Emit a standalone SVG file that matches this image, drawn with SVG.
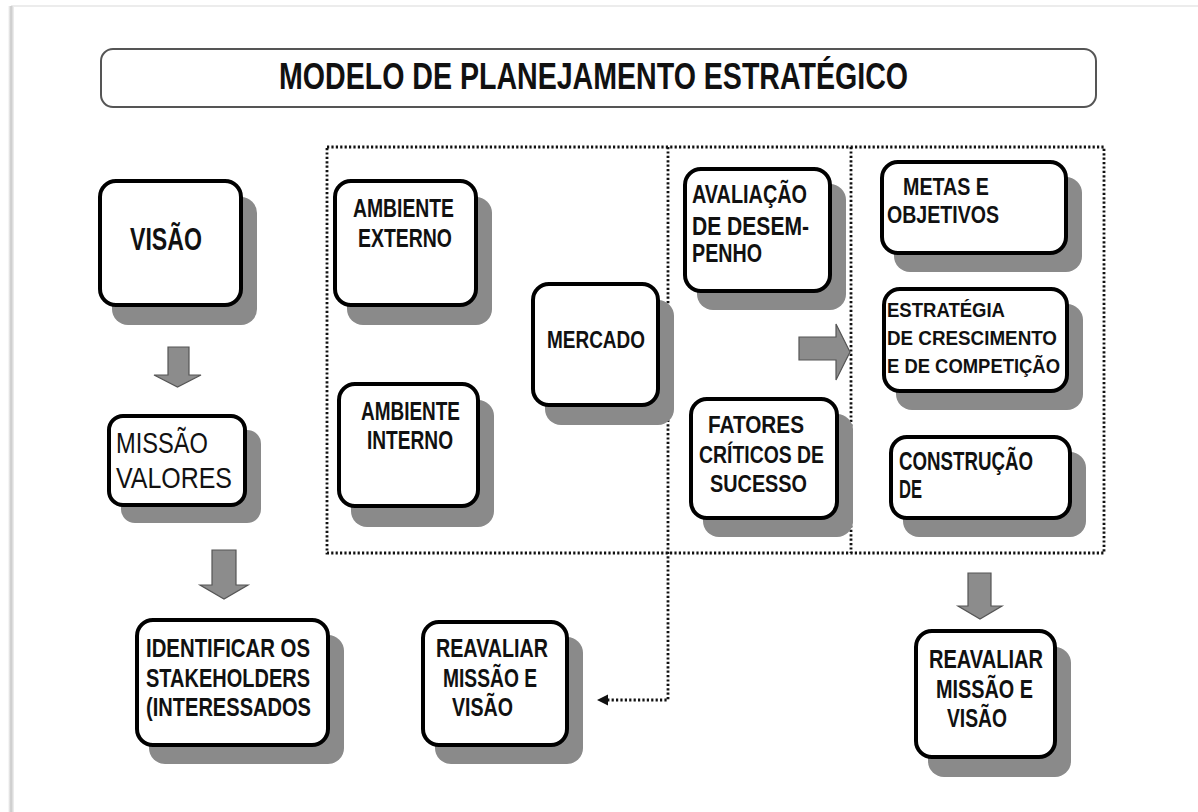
<svg xmlns="http://www.w3.org/2000/svg" width="1198" height="812" viewBox="0 0 1198 812">
<defs>
<style>
.box{fill:#fff;stroke:#000;stroke-width:4}
.sh{fill:#8a8a8a}
.t{font-family:"Liberation Sans",Arial,sans-serif;font-weight:bold;fill:#111}
.n{font-family:"Liberation Sans",Arial,sans-serif;font-weight:normal;fill:#111}
.dot{fill:none;stroke:#111;stroke-width:2.8;stroke-dasharray:2.2 2.2}
.blk{fill:#8c8c8c;stroke:#555;stroke-width:1.2}
</style>
<linearGradient id="edge" x1="0" y1="0" x2="1" y2="0">
<stop offset="0" stop-color="#ffffff"/>
<stop offset="0.5" stop-color="#c8c8c8"/>
<stop offset="1" stop-color="#f2f2f2"/>
</linearGradient>
</defs>
<rect x="0" y="0" width="1198" height="812" fill="#fff"/>
<rect x="11" y="5" width="1187" height="2" fill="#ececec"/>
<rect x="8" y="6" width="6" height="806" fill="url(#edge)"/>

<g id="title">
<rect x="101" y="49" width="995" height="58" rx="12" fill="#fff" stroke="#555" stroke-width="2"/>
<text class="t" x="279" y="89" font-size="37" textLength="629" lengthAdjust="spacingAndGlyphs">MODELO DE PLANEJAMENTO ESTRATÉGICO</text>
</g>

<g id="connectors">
<path class="dot" d="M327,147 H1104 V553 H327 Z"/>
<path class="dot" d="M851,147 V553"/>
<path class="dot" d="M668,147 V700 H606"/>
<path d="M597,700 L608,694.5 L608,705.5 Z" fill="#111"/>
<path class="blk" d="M168,347 H189 V375 H201 L177.5,387 L154,375 H168 Z"/>
<path class="blk" d="M212,550 H236 V585 H248 L224,599 L200,585 H212 Z"/>
<path class="blk" d="M968,573 H991 V606 H1002 L980,619 L958,606 H968 Z"/>
<path class="blk" d="M799,337 H836 V324 L850,352 L836,380 V360 H799 Z"/>
</g>

<g id="n-visao">
<rect class="sh" x="112" y="197" width="145" height="128" rx="16"/>
<rect class="box" x="100" y="181" width="141" height="124" rx="16"/>
<text class="t" x="130" y="250" font-size="32" textLength="72" lengthAdjust="spacingAndGlyphs">VISÃO</text>
</g>

<g id="n-missao">
<rect class="sh" x="121" y="430" width="140" height="93" rx="14"/>
<rect class="box" x="109" y="416" width="136" height="89" rx="14"/>
<text class="n" x="116" y="453" font-size="29" textLength="92" lengthAdjust="spacingAndGlyphs">MISSÃO</text>
<text class="n" x="116" y="488" font-size="29" textLength="116" lengthAdjust="spacingAndGlyphs">VALORES</text>
</g>

<g id="n-stakeholders">
<rect class="sh" x="149" y="635" width="195" height="129" rx="16"/>
<rect class="box" x="137" y="620" width="191" height="125" rx="16"/>
<text class="t" x="146" y="657" font-size="26" textLength="164" lengthAdjust="spacingAndGlyphs">IDENTIFICAR OS</text>
<text class="t" x="146" y="687" font-size="26" textLength="164" lengthAdjust="spacingAndGlyphs">STAKEHOLDERS</text>
<text class="t" x="146" y="716" font-size="26" textLength="165" lengthAdjust="spacingAndGlyphs">(INTERESSADOS</text>
</g>

<g id="n-reavaliar1">
<rect class="sh" x="435" y="637" width="148" height="127" rx="16"/>
<rect class="box" x="423" y="622" width="144" height="123" rx="16"/>
<text class="t" x="436" y="657" font-size="26" textLength="112" lengthAdjust="spacingAndGlyphs">REAVALIAR</text>
<text class="t" x="443" y="687" font-size="26" textLength="94" lengthAdjust="spacingAndGlyphs">MISSÃO E</text>
<text class="t" x="452" y="716" font-size="26" textLength="61" lengthAdjust="spacingAndGlyphs">VISÃO</text>
</g>

<g id="n-amb-ext">
<rect class="sh" x="347" y="197" width="145" height="128" rx="16"/>
<rect class="box" x="335" y="181" width="141" height="124" rx="16"/>
<text class="t" x="353" y="217" font-size="26" textLength="101" lengthAdjust="spacingAndGlyphs">AMBIENTE</text>
<text class="t" x="358" y="247" font-size="26" textLength="94" lengthAdjust="spacingAndGlyphs">EXTERNO</text>
</g>

<g id="n-amb-int">
<rect class="sh" x="351" y="400" width="143" height="127" rx="16"/>
<rect class="box" x="339" y="384" width="139" height="122" rx="16"/>
<text class="t" x="361" y="420" font-size="26" textLength="99" lengthAdjust="spacingAndGlyphs">AMBIENTE</text>
<text class="t" x="367" y="449" font-size="26" textLength="86" lengthAdjust="spacingAndGlyphs">INTERNO</text>
</g>

<g id="n-mercado">
<rect class="sh" x="545" y="300" width="129" height="125" rx="16"/>
<rect class="box" x="533" y="284" width="125" height="121" rx="16"/>
<text class="t" x="547" y="348" font-size="24" textLength="98" lengthAdjust="spacingAndGlyphs">MERCADO</text>
</g>

<g id="n-avaliacao">
<rect class="sh" x="697" y="184" width="149" height="126" rx="16"/>
<rect class="box" x="685" y="169" width="145" height="122" rx="16"/>
<text class="t" x="692" y="203" font-size="25" textLength="115" lengthAdjust="spacingAndGlyphs">AVALIAÇÃO</text>
<text class="t" x="692" y="235" font-size="25" textLength="117" lengthAdjust="spacingAndGlyphs">DE  DESEM-</text>
<text class="t" x="692" y="262" font-size="25" textLength="70" lengthAdjust="spacingAndGlyphs">PENHO</text>
</g>

<g id="n-fatores">
<rect class="sh" x="703" y="414" width="150" height="123" rx="16"/>
<rect class="box" x="691" y="399" width="146" height="119" rx="16"/>
<text class="t" x="708" y="433" font-size="24" textLength="96" lengthAdjust="spacingAndGlyphs">FATORES</text>
<text class="t" x="699" y="463" font-size="24" textLength="125" lengthAdjust="spacingAndGlyphs">CRÍTICOS DE</text>
<text class="t" x="710" y="492" font-size="24" textLength="97" lengthAdjust="spacingAndGlyphs">SUCESSO</text>
</g>

<g id="n-metas">
<rect class="sh" x="894" y="177" width="188" height="95" rx="16"/>
<rect class="box" x="882" y="162" width="184" height="91" rx="16"/>
<text class="t" x="903" y="195" font-size="24" textLength="86" lengthAdjust="spacingAndGlyphs">METAS E</text>
<text class="t" x="887" y="223" font-size="24" textLength="112" lengthAdjust="spacingAndGlyphs">OBJETIVOS</text>
</g>

<g id="n-estrategia">
<rect class="sh" x="896" y="304" width="187" height="106" rx="16"/>
<rect class="box" x="884" y="289" width="183" height="102" rx="16"/>
<text class="t" x="887" y="317" font-size="21" textLength="118" lengthAdjust="spacingAndGlyphs">ESTRATÉGIA</text>
<text class="t" x="887" y="345" font-size="21" textLength="170" lengthAdjust="spacingAndGlyphs">DE CRESCIMENTO</text>
<text class="t" x="887" y="373" font-size="21" textLength="173" lengthAdjust="spacingAndGlyphs">E DE COMPETIÇÃO</text>
</g>

<g id="n-construcao">
<rect class="sh" x="903" y="452" width="183" height="85" rx="16"/>
<rect class="box" x="891" y="437" width="179" height="81" rx="16"/>
<text class="t" x="899" y="470" font-size="25" textLength="134" lengthAdjust="spacingAndGlyphs">CONSTRUÇÃO</text>
<text class="t" x="899" y="498" font-size="25" textLength="23" lengthAdjust="spacingAndGlyphs">DE</text>
</g>

<g id="n-reavaliar2">
<rect class="sh" x="928" y="647" width="143" height="130" rx="16"/>
<rect class="box" x="916" y="631" width="139" height="126" rx="16"/>
<text class="t" x="929" y="668" font-size="26" textLength="114" lengthAdjust="spacingAndGlyphs">REAVALIAR</text>
<text class="t" x="936" y="698" font-size="26" textLength="97" lengthAdjust="spacingAndGlyphs">MISSÃO E</text>
<text class="t" x="947" y="727" font-size="26" textLength="60" lengthAdjust="spacingAndGlyphs">VISÃO</text>
</g>
</svg>
